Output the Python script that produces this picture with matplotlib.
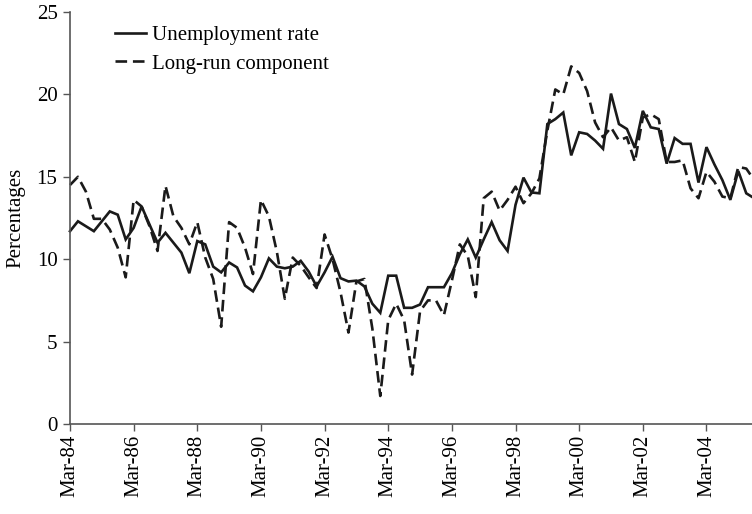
import matplotlib
matplotlib.use("Agg")
import matplotlib.pyplot as plt
import numpy as np

# Quarterly observations, Mar-84 .. Sep-05
unemployment = [
    11.7, 12.3, 12.0, 11.7, 12.3, 12.9, 12.7, 11.2, 11.9, 13.2,
    12.1, 11.0, 11.6, 11.0, 10.4, 9.15, 11.1, 10.9, 9.55, 9.2,
    9.8, 9.5, 8.4, 8.05, 8.9, 10.05, 9.55, 9.45, 9.55, 9.9,
    9.25, 8.35, 9.2, 10.15, 8.85, 8.65, 8.7, 8.35, 7.3, 6.75,
    9.0, 9.0, 7.05, 7.05, 7.25, 8.3, 8.3, 8.3, 9.15, 10.3,
    11.2, 10.1, 11.2, 12.25, 11.15, 10.5, 13.3, 14.95, 14.05, 14.0,
    18.2, 18.5, 18.9, 16.3, 17.7, 17.6, 17.2, 16.7, 20.05, 18.2,
    17.9, 16.75, 19.0, 18.0, 17.9, 15.8, 17.35, 17.0, 17.0, 14.65,
    16.8, 15.75, 14.8, 13.6, 15.35, 14.0, 13.7,
]
long_run = [
    14.5, 15.0, 14.1, 12.45, 12.45, 11.8, 10.7, 8.9, 13.6, 13.2,
    12.0, 10.5, 14.45, 12.6, 11.9, 10.9, 12.25, 10.1, 8.8, 5.9,
    12.25, 11.9, 10.7, 9.1, 13.6, 12.6, 10.45, 7.6, 10.1, 9.6,
    8.9, 8.25, 11.5, 10.0, 8.0, 5.55, 8.65, 8.8, 5.8, 1.7,
    6.3, 7.3, 6.3, 3.0, 6.85, 7.5, 7.5, 6.6, 8.7, 10.9,
    10.2, 7.7, 13.7, 14.1, 12.95, 13.6, 14.4, 13.4, 14.0, 14.9,
    17.8, 20.3, 20.0, 21.7, 21.3, 20.2, 18.3, 17.4, 18.0, 17.2,
    17.4, 15.9, 18.6, 18.8, 18.5, 15.9, 15.9, 16.0, 14.3, 13.7,
    15.3, 14.7, 13.8, 13.7, 15.6, 15.5, 14.8,
]
tick_labels = ["Mar-84", "Mar-86", "Mar-88", "Mar-90", "Mar-92", "Mar-94",
               "Mar-96", "Mar-98", "Mar-00", "Mar-02", "Mar-04"]
y_ticks = [0, 5, 10, 15, 20, 25]

plt.rcParams['font.family'] = ['Liberation Serif', 'DejaVu Serif']

fig = plt.figure(figsize=(7.52, 5.14), dpi=100)
W, H = 752, 514
x0, x_end = 70, 754.2
y0, y_top = 424, 12
ax = fig.add_axes([x0 / W, (H - y0) / H, (x_end - x0) / W, (y0 - y_top) / H])

x = np.arange(len(unemployment))
col = '#1a1a1a'
ax.plot(x, unemployment, color=col, lw=1.9, solid_joinstyle='miter',
        label='Unemployment rate', clip_on=False)
ax.plot(x, long_run, color=col, lw=1.9, dashes=(4.4, 2.2),
        label='Long-run component', clip_on=False)

ax.set_xlim(0, len(unemployment) - 1)
ax.set_ylim(0, 25)
ax.set_yticks(y_ticks)
ax.set_xticks(np.arange(0, 8 * len(tick_labels), 8))
ax.set_xticklabels(tick_labels, rotation=90, fontsize=15)
ax.tick_params(axis='y', labelsize=15, direction='out', length=5, width=1, color='#555555', pad=4)
ax.tick_params(axis='x', direction='out', length=5, width=1, color='#555555', pad=3)

for s in ['top', 'right']:
    ax.spines[s].set_visible(False)
for s in ['left', 'bottom']:
    ax.spines[s].set_color('#555555')
    ax.spines[s].set_linewidth(1.2)

ax.set_ylabel('Percentages', fontsize=15, labelpad=8)

leg = ax.legend(loc='upper left', bbox_to_anchor=(0.066, 0.967), frameon=False,
                fontsize=15, handlelength=1.5, handletextpad=0.25,
                labelspacing=0.42, borderpad=0, borderaxespad=0)

fig.savefig('out.png', dpi=100)
